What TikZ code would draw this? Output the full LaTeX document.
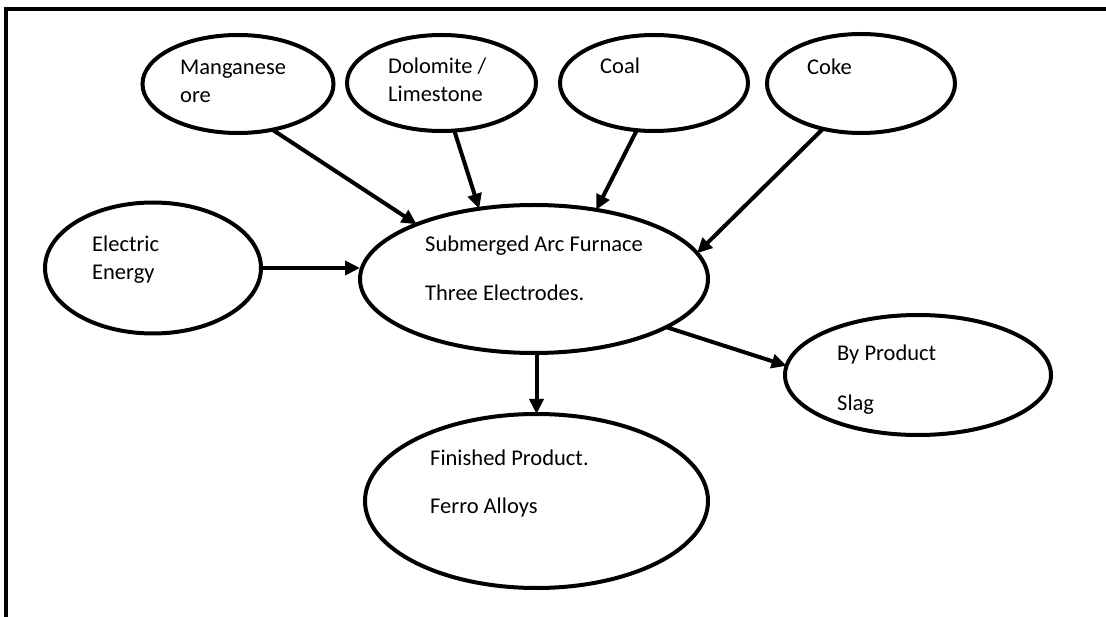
\documentclass[tikz,border=0pt]{standalone}
\usepackage{fontspec}
\setmainfont{Carlito}
\usetikzlibrary{shapes.geometric,arrows.meta}
\tikzset{
  oval/.style={draw, ellipse, line width=4pt, inner sep=0pt, outer sep=0pt},
  lbl/.style={anchor=base west, inner sep=0pt, font=\fontsize{22.5}{27}\selectfont, text=black},
  flow/.style={line width=4pt, -{Triangle[length=15pt,width=14pt]}},
  frame/.style={line width=4pt}
}
\begin{document}
\begin{tikzpicture}[x=1pt,y=-1pt]
\useasboundingbox (0,0) rectangle (1106,617);
\coordinate (fa) at (6,617);
\coordinate (fb) at (6,9);
\coordinate (fc) at (1106,9);
\draw[frame] (fa) -- (fb) -- (fc);

\node[oval, minimum width=191pt, minimum height=98pt] (mn) at (238,84) {};
\node[oval, minimum width=189pt, minimum height=96pt] (dl) at (441.5,83) {};
\node[oval, minimum width=188pt, minimum height=96pt] (cl) at (654,83) {};
\node[oval, minimum width=188pt, minimum height=99pt] (ck) at (861,83.5) {};
\node[oval, minimum width=216pt, minimum height=131pt] (el) at (153,268) {};
\node[oval, minimum width=348pt, minimum height=148pt] (furn) at (534,279) {};
\node[oval, minimum width=343pt, minimum height=174pt] (fin) at (536.5,501) {};
\node[oval, minimum width=266pt, minimum height=120pt] (slag) at (918,375) {};

\node[lbl] (t1) at (180,75) {Manganese};
\node[lbl] (t2) at (180,103) {ore};
\node[lbl] (t3) at (388,74) {Dolomite /};
\node[lbl] (t4) at (388,102) {Limestone};
\node[lbl] (t5) at (600,74) {Coal};
\node[lbl] (t6) at (807,75) {Coke};
\node[lbl] (t7) at (92,252) {Electric};
\node[lbl] (t8) at (92,280) {Energy};
\node[lbl] (t9) at (425,252) {Submerged Arc Furnace};
\node[lbl] (t10) at (425,301) {Three Electrodes.};
\node[lbl] (t11) at (430,465) {Finished Product.};
\node[lbl] (t12) at (430,513) {Ferro Alloys};
\node[lbl] (t13) at (837,361) {By Product};
\node[lbl] (t14) at (837,410) {Slag};

\draw[flow] (mn.-53) -- (furn.155.4);
\draw[flow] (dl.-75) -- (furn.128.8);
\draw[flow] (cl.-110) -- (furn.48.1);
\draw[flow] (ck.-130) -- (furn.9.5);
\draw[flow] (el.east) -- (furn.west |- el.east);
\draw[flow] (fin.north |- furn.south) -- (fin.north);
\draw[flow] (furn.-20) -- (slag.176.6);
\end{tikzpicture}
\end{document}
